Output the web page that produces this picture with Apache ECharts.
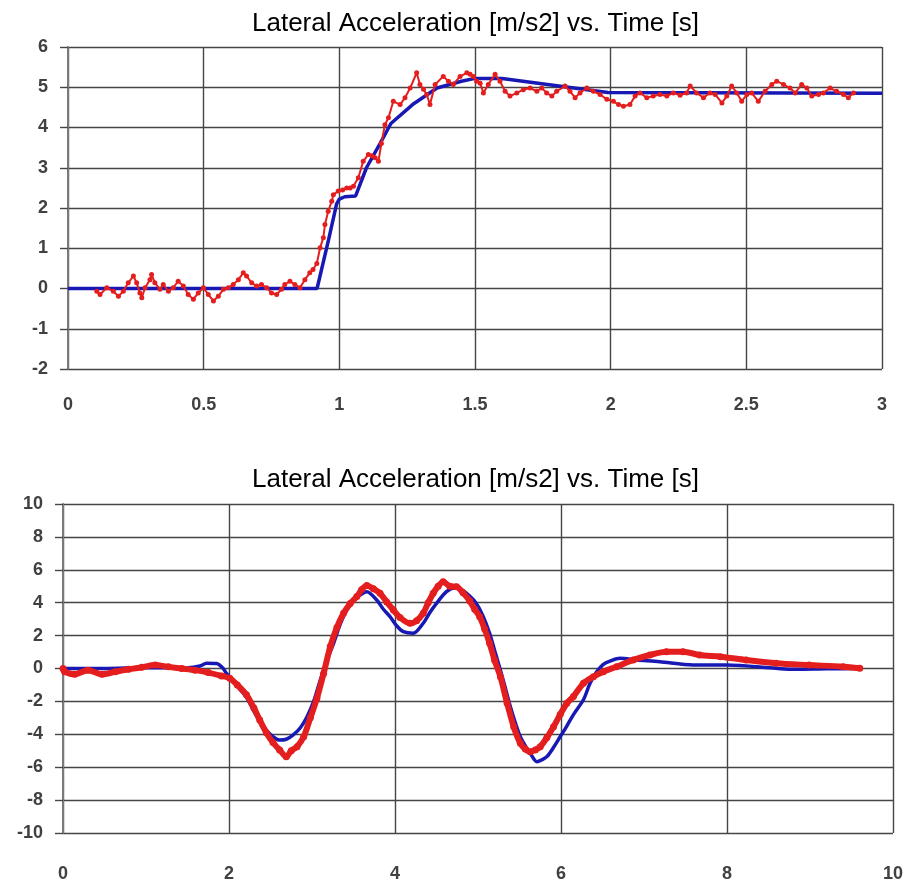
<!DOCTYPE html>
<html>
<head>
<meta charset="utf-8">
<script src="https://cdn.jsdelivr.net/npm/echarts@6/dist/echarts.min.js"></script>
<style>
html,body{margin:0;padding:0;background:#fff;}
#chart{width:907px;height:886px;}
</style>
</head>
<body>
<div id="chart"></div>
<script>
// ---- Titles ----
const titleText = 'Lateral Acceleration [m/s2] vs. Time [s]';

// ---- Tick values ----
const topXTicks = [0, 0.5, 1, 1.5, 2, 2.5, 3];
const topYTicks = [-2, -1, 0, 1, 2, 3, 4, 5, 6];
const botXTicks = [0, 2, 4, 6, 8, 10];
const botYTicks = [-10, -8, -6, -4, -2, 0, 2, 4, 6, 8, 10];

// ---- Top chart: model (blue) ----
const topBlueTime = [0, 0.918, 0.96, 0.99, 1.0, 1.02, 1.06, 1.10, 1.15, 1.19, 1.27, 1.36, 1.45, 1.50, 1.60, 1.99, 3.0];
const topBlue     = [0, 0, 1.2, 2.1, 2.22, 2.28, 2.3, 3.0, 3.6, 4.1, 4.57, 4.98, 5.15, 5.22, 5.22, 4.87, 4.85];

// ---- Top chart: measured (red) ----
const topRedTime = [0.106,0.118,0.143,0.167,0.186,0.204,0.222,0.241,0.253,0.265,0.272,0.284,0.302,0.308,0.320,0.339,0.351,0.370,0.388,0.406,0.425,0.443,0.462,0.480,0.499,0.517,0.536,0.554,0.573,0.591,0.609,0.628,0.646,0.658,0.677,0.695,0.713,0.732,0.750,0.769,0.787,0.799,0.818,0.836,0.855,0.873,0.891,0.903,0.917,0.929,0.941,0.947,0.959,0.972,0.978,0.996,1.012,1.027,1.040,1.052,1.070,1.088,1.107,1.120,1.132,1.144,1.155,1.168,1.181,1.199,1.224,1.242,1.261,1.285,1.297,1.310,1.322,1.334,1.353,1.383,1.402,1.420,1.445,1.470,1.482,1.494,1.506,1.519,1.531,1.549,1.574,1.592,1.611,1.629,1.654,1.678,1.703,1.728,1.746,1.764,1.783,1.801,1.832,1.850,1.869,1.887,1.912,1.936,1.961,1.986,2.010,2.029,2.047,2.071,2.090,2.108,2.133,2.157,2.182,2.207,2.231,2.256,2.280,2.293,2.317,2.342,2.366,2.385,2.410,2.428,2.446,2.465,2.483,2.502,2.520,2.544,2.569,2.594,2.612,2.637,2.661,2.680,2.704,2.723,2.741,2.766,2.784,2.809,2.833,2.858,2.876,2.895];
const topRed = [-0.07,-0.15,0.02,-0.07,-0.19,-0.07,0.14,0.31,0.14,-0.11,-0.23,0.02,0.22,0.35,0.14,-0.02,0.10,-0.07,0.02,0.18,0.06,-0.15,-0.27,-0.11,0.02,-0.15,-0.31,-0.19,-0.02,0.02,0.10,0.22,0.39,0.31,0.14,0.06,0.10,0.02,-0.11,-0.15,-0.02,0.10,0.18,0.10,0.02,0.22,0.39,0.47,0.62,1.01,1.26,1.59,1.92,2.17,2.33,2.42,2.45,2.50,2.50,2.54,2.75,3.16,3.33,3.30,3.25,3.16,3.60,4.07,4.24,4.65,4.57,4.74,4.98,5.36,5.07,4.95,4.82,4.57,5.07,5.27,5.15,5.07,5.27,5.36,5.32,5.27,5.15,5.10,4.86,5.07,5.32,5.15,4.90,4.78,4.86,4.94,4.98,4.90,4.98,4.86,4.78,4.90,5.03,4.90,4.74,4.86,4.98,4.90,4.82,4.70,4.65,4.57,4.53,4.57,4.78,4.86,4.74,4.78,4.82,4.78,4.86,4.80,4.86,5.03,4.86,4.74,4.86,4.82,4.61,4.78,5.03,4.86,4.65,4.82,4.86,4.65,4.90,5.07,5.15,5.07,4.98,4.86,5.07,4.98,4.78,4.82,4.86,4.98,4.90,4.82,4.74,4.86];

// ---- Bottom chart: model (blue) ----
const botBlueTime = [0,0.5,1.0,1.5,1.65,1.73,1.85,1.93,1.97,2.05,2.13,2.21,2.29,2.37,2.45,2.53,2.61,2.69,2.77,2.86,2.94,3.02,3.10,3.18,3.26,3.34,3.42,3.50,3.58,3.66,3.78,3.86,3.94,4.02,4.10,4.22,4.34,4.42,4.50,4.62,4.72,4.80,4.90,4.98,5.06,5.14,5.20,5.27,5.33,5.39,5.45,5.51,5.57,5.63,5.71,5.77,5.83,5.91,5.99,6.07,6.15,6.27,6.35,6.43,6.51,6.59,6.71,6.91,7.19,7.59,8.00,8.59,8.80,9.20,9.60];
const botBlue     = [0,0,0.05,0.05,0.15,0.32,0.3,0,-0.3,-0.75,-1.25,-1.75,-2.5,-3.2,-3.75,-4.15,-4.35,-4.3,-4.05,-3.6,-2.93,-2.0,-0.7,0.5,1.53,2.7,3.56,4.1,4.47,4.67,4.16,3.6,3.15,2.6,2.24,2.14,2.75,3.4,3.96,4.67,4.9,4.8,4.4,3.96,3.2,2.14,1.1,-0.1,-1.2,-2.32,-3.3,-4.15,-4.7,-5.16,-5.67,-5.55,-5.36,-4.8,-4.15,-3.5,-2.8,-1.9,-0.9,-0.2,0.25,0.45,0.62,0.52,0.41,0.21,0.21,0.01,-0.05,-0.02,0];

// ---- Bottom chart: measured (red) ----
const botRedTime = [0,0.02,0.14,0.30,0.47,0.63,0.79,0.95,1.11,1.27,1.43,1.59,1.75,1.91,2.01,2.10,2.21,2.30,2.37,2.45,2.53,2.61,2.69,2.75,2.82,2.90,2.98,3.06,3.14,3.22,3.30,3.38,3.46,3.54,3.60,3.66,3.74,3.82,3.90,3.98,4.06,4.18,4.26,4.34,4.40,4.46,4.52,4.58,4.66,4.74,4.82,4.90,4.96,5.02,5.08,5.14,5.20,5.27,5.35,5.43,5.51,5.57,5.63,5.69,5.75,5.83,5.91,5.99,6.07,6.15,6.27,6.39,6.51,6.67,6.87,7.07,7.27,7.47,7.67,7.92,8.23,8.59,8.99,9.40,9.60];
const botRed     = [0,-0.2,-0.35,-0.1,-0.35,-0.2,-0.05,0.07,0.21,0.1,0,-0.1,-0.25,-0.45,-0.6,-1.0,-1.6,-2.4,-3.13,-3.9,-4.5,-4.95,-5.36,-5.0,-4.75,-4.15,-3.0,-1.8,-0.3,1.33,2.5,3.36,3.95,4.37,4.8,5.05,4.85,4.57,4.05,3.56,3.1,2.75,2.9,3.36,4.0,4.57,5.0,5.28,5.0,4.97,4.6,4.1,3.6,3.15,2.4,1.53,0.5,-0.5,-2.1,-3.54,-4.55,-4.9,-5.06,-4.95,-4.75,-4.2,-3.54,-2.8,-2.12,-1.7,-0.9,-0.5,-0.19,0.11,0.52,0.82,1.02,1.02,0.82,0.72,0.52,0.32,0.21,0.11,0.01];

function pairs(xs, ys) { return xs.map((x, i) => [x, ys[i]]); }

const RED = '#e41e1e';
const BLUE = '#1818b4';
const GRID_COL = '#454545';
const FONT = 'Liberation Sans';
const LABEL_COL = '#404040';

function xAxis(gi, ticks, margin) {
  return {
    type: 'value', gridIndex: gi,
    min: ticks[0], max: ticks[ticks.length - 1], interval: ticks[1] - ticks[0],
    axisLine: { show: false },
    axisTick: { show: false },
    splitLine: { show: true, showMinLine: true, showMaxLine: true, lineStyle: { color: GRID_COL, width: 1.4 } },
    axisLabel: { margin: margin, fontSize: 18, fontWeight: 'bold', color: LABEL_COL, fontFamily: FONT,
      showMinLabel: true, showMaxLabel: true }
  };
}
function yAxis(gi, ticks) {
  return {
    type: 'value', gridIndex: gi,
    min: ticks[0], max: ticks[ticks.length - 1], interval: ticks[1] - ticks[0],
    axisLine: { show: true, lineStyle: { color: '#7a7a7a', width: 2 } },
    axisTick: { show: true, length: 8, lineStyle: { color: GRID_COL, width: 1.4 } },
    splitLine: { show: true, showMinLine: true, showMaxLine: true, lineStyle: { color: GRID_COL, width: 1.4 } },
    axisLabel: { margin: 20, fontSize: 18, fontWeight: 'bold', color: LABEL_COL, fontFamily: FONT,
      showMinLabel: true, showMaxLabel: true }
  };
}

const chart = echarts.init(document.getElementById('chart'), null, { renderer: 'canvas' });
chart.setOption({
  animation: false,
  backgroundColor: '#ffffff',
  title: [
    { text: titleText, left: 247, top: 6, textStyle: { fontSize: 26, fontWeight: 'normal', color: '#000', fontFamily: FONT } },
    { text: titleText, left: 247, top: 462, textStyle: { fontSize: 26, fontWeight: 'normal', color: '#000', fontFamily: FONT } }
  ],
  grid: [
    { left: 68, top: 47, width: 814, height: 322 },
    { left: 63, top: 504, width: 830, height: 329 }
  ],
  xAxis: [ xAxis(0, topXTicks, 27), xAxis(1, botXTicks, 32) ],
  yAxis: [ yAxis(0, topYTicks), yAxis(1, botYTicks) ],
  series: [
    { type: 'line', xAxisIndex: 0, yAxisIndex: 0, data: pairs(topBlueTime, topBlue),
      showSymbol: false, lineStyle: { color: BLUE, width: 3.5 }, z: 3 },
    { type: 'line', xAxisIndex: 0, yAxisIndex: 0, data: pairs(topRedTime, topRed),
      symbol: 'circle', symbolSize: 5, showSymbol: true,
      itemStyle: { color: RED }, lineStyle: { color: RED, width: 2 }, z: 4 },
    { type: 'line', xAxisIndex: 1, yAxisIndex: 1, data: pairs(botBlueTime, botBlue), smooth: 0.3,
      showSymbol: false, lineStyle: { color: BLUE, width: 3.5 }, z: 3 },
    { type: 'line', xAxisIndex: 1, yAxisIndex: 1, data: pairs(botRedTime, botRed), smooth: 0.3,
      symbol: 'circle', symbolSize: 7, showSymbol: true,
      itemStyle: { color: RED }, lineStyle: { color: RED, width: 6 }, z: 4 }
  ]
});
</script>
</body>
</html>
